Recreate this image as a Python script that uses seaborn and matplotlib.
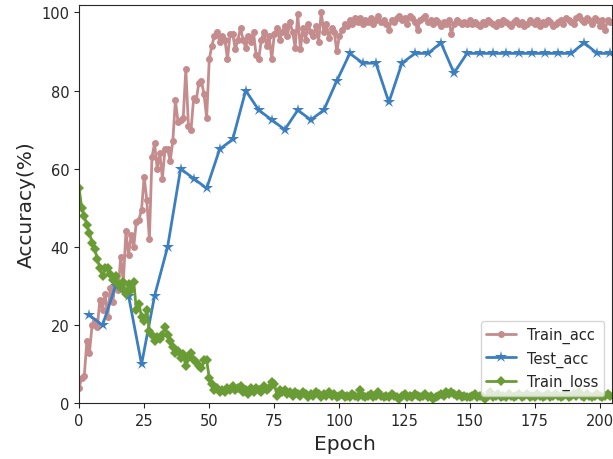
import numpy as np
import pandas as pd
import seaborn as sns
import matplotlib.pyplot as plt

# values
train_acc = [
    4, 6.5, 7, 16, 13, 20, 21, 19.5, 26.5, 24,
    28, 22, 29.5, 26, 32, 29, 37.5, 31, 44, 38,
    43, 40, 46.5, 47, 49.5, 58, 52, 42, 63, 66.5,
    60, 64, 57.5, 65, 65, 62, 67, 77.5, 72, 72.5,
    73, 85.5, 71, 70, 78, 77.5, 82, 82.5, 79, 73,
    88, 91.5, 94, 95, 92.5, 94, 93, 88, 94.5, 94.5,
    90.5, 93, 96, 93, 91, 94, 92.5, 95, 89, 88,
    93, 95, 91.5, 94, 88, 94.5, 96, 93, 95, 96.5,
    94, 97.5, 95, 91, 99.5, 90.5, 96, 93, 97, 95,
    94, 96.5, 92.5, 100, 95, 97, 93.5, 96, 95, 90,
    94, 95.5, 97, 96.5, 98, 97, 98.5, 97.5, 98.5, 97,
    98, 97.5, 98.5, 97, 98, 99, 97.5, 98, 97, 95.5,
    98, 97.5, 98.5, 99, 98, 98.5, 97, 99, 98.5, 97.5,
    95.5, 98, 98.5, 99, 97.5, 98, 97, 98, 97.5, 96.5,
    97.5, 97, 98, 94.5, 97, 98, 97.5, 97, 97.5, 97,
    98, 97, 97.5, 97, 96.5, 97.5, 97, 98, 97.5, 97,
    96.5, 97.5, 97, 98, 97.5, 97, 96.5, 97.5, 98, 97,
    97.5, 96.5, 97, 98, 97.5, 97, 98, 96.5, 97.5, 97,
    98, 97.5, 96.5, 97, 97.5, 98, 97, 98.5, 98, 97.5,
    97, 98.5, 99, 98, 97.5, 98.5, 98, 97, 98.5, 98,
    96.5, 98, 95.5, 98, 97.5,
]

train_loss = [
    55, 50, 48, 45.5, 43.5, 41, 39.5, 37, 34.5, 32.5,
    34.5, 34.5, 33, 31.5, 32.5, 30.5, 29.5, 31, 28, 30.5,
    29, 31, 24, 25.5, 22, 21, 24, 18.5, 17.5, 16,
    17, 16.5, 17.5, 19.5, 17.5, 16, 14.5, 13, 13.5, 11.5,
    12.5, 9.5, 11.5, 13, 11, 10.5, 9.5, 9, 11, 11,
    6.5, 5, 3.5, 4, 3, 3.5, 3, 4, 3.5, 4.5,
    3.5, 4, 4.5, 3, 3.5, 2.5, 4, 3, 4, 3.5,
    3, 4.5, 3.5, 4, 5.5, 5, 2, 3.5, 3, 3.5,
    2.5, 3, 2, 3, 2.5, 2, 3, 2.5, 1.5, 2.5,
    2, 3, 2.5, 1.5, 2.5, 2, 3, 2, 2.5, 1.5,
    2, 2.5, 1.5, 2, 1.5, 2.5, 2, 1.5, 3.5, 2,
    1.5, 2, 2.5, 1.5, 2, 3, 2, 1.5, 2, 1.5,
    2.5, 2, 1.5, 1, 2, 2.5, 1.5, 2, 1.5, 2.5,
    2, 1.5, 2, 2.5, 1.5, 2, 1, 1.5, 2, 2.5,
    2, 3, 2.5, 3, 2.5, 2, 2.5, 1.5, 2, 1.5,
    1.5, 2, 2.5, 1.5, 2, 1.5, 1, 2, 3, 1.5,
    2, 2.5, 1.5, 2, 1.5, 2.5, 2, 1.5, 2, 2.5,
    1.5, 2, 2.5, 1.5, 2, 1.5, 2.5, 2, 1.5, 2,
    2.5, 1.5, 2, 2.5, 2, 1.5, 2, 2.5, 1.5, 2,
    2.5, 2, 3, 2, 1.5, 2.5, 2, 1.5, 2, 2.5,
    2, 1.5, 2, 2.5, 2,
]

test_epochs = list(range(4, 205, 5))
test_acc = [
    22.5, 20, 30, 27.5, 10, 27.5, 40, 60, 57.5, 55,
    65, 67.5, 80, 75, 72.5, 70, 75, 72.5, 75, 82.5,
    89.5, 87, 87, 77, 87, 89.5, 89.5, 92.2, 84.5, 89.5,
    89.5, 89.5, 89.5, 89.5, 89.5, 89.5, 89.5, 89.5, 92.2, 89.5,
    89.5,
]

epochs = np.arange(len(train_acc))

sns.set_style("ticks")
fig = plt.figure(figsize=(6.13, 4.6), dpi=100)
ax = fig.add_axes([0.129, 0.121, 0.869, 0.867])

sns.lineplot(x=epochs, y=train_acc, ax=ax, color="#c48c8c", marker="o",
             markersize=5, markeredgewidth=0, linewidth=2, label="Train_acc")
sns.lineplot(x=test_epochs, y=test_acc, ax=ax, color="#3c7fc0", marker="*",
             markersize=9, markeredgewidth=0, linewidth=2, label="Test_acc")
sns.lineplot(x=epochs, y=train_loss, ax=ax, color="#6a9c35", marker="D",
             markersize=5, markeredgewidth=0, linewidth=2, label="Train_loss")

ax.set_xlim(0, 204.6)
ax.set_ylim(0, 102)
ax.set_xticks([0, 25, 50, 75, 100, 125, 150, 175, 200])
ax.set_yticks([0, 20, 40, 60, 80, 100])
ax.tick_params(labelsize=10.5)
ax.set_xlabel("Epoch", fontsize=14.5)
ax.set_ylabel("Accuracy(%)", fontsize=14.5)
ax.legend(loc="lower right", fontsize=10.5)

fig.savefig("out.png", dpi=100)
